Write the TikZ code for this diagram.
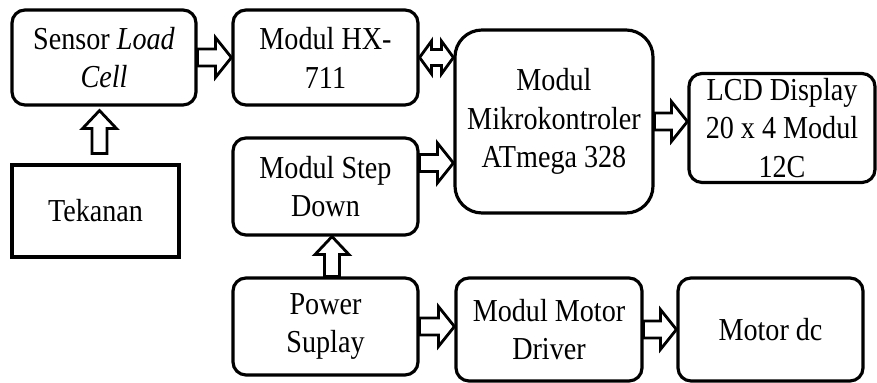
\documentclass[tikz,border=0pt]{standalone}
\usepackage{fontspec}
\setmainfont[FakeStretch=0.88]{Liberation Serif}
\usepackage{tikz}
\usetikzlibrary{calc}

\tikzset{
    block/.style={draw, line width=1.8pt, rounded corners=0.26cm, align=center, inner sep=0pt,
        font=\fontsize{18.2}{22.1}\selectfont},
    blockarr/.style n args={3}{draw, line width=1.6pt, line join=miter, fill=white,
        to path={
            ($(\tikztotarget)!#3!(\tikztostart)$) coordinate (ah)
            ($(\tikztostart)!#1!90:(\tikztotarget)$)
            -- ($(ah)!#1!90:(\tikztotarget)$)
            -- ($(ah)!#2!90:(\tikztotarget)$)
            -- (\tikztotarget)
            -- ($(ah)!#2!-90:(\tikztotarget)$)
            -- ($(ah)!#1!-90:(\tikztotarget)$)
            -- ($(\tikztostart)!#1!-90:(\tikztotarget)$)
            -- cycle}},
    dblarr/.style n args={3}{draw, line width=1.6pt, line join=miter, fill=white,
        to path={
            ($(\tikztostart)!#3!(\tikztotarget)$) coordinate (ha)
            ($(\tikztotarget)!#3!(\tikztostart)$) coordinate (hb)
            (\tikztostart)
            -- ($(ha)!#2!90:(\tikztotarget)$)
            -- ($(ha)!#1!90:(\tikztotarget)$)
            -- ($(hb)!#1!90:(\tikztotarget)$)
            -- ($(hb)!#2!90:(\tikztotarget)$)
            -- (\tikztotarget)
            -- ($(hb)!#2!-90:(\tikztotarget)$)
            -- ($(hb)!#1!-90:(\tikztotarget)$)
            -- ($(ha)!#1!-90:(\tikztotarget)$)
            -- ($(ha)!#2!-90:(\tikztotarget)$)
            -- cycle}}
}

\begin{document}
\begin{tikzpicture}
    \useasboundingbox (0,0) rectangle (17.54,7.66);
    \node[block, minimum width=3.68cm, minimum height=1.90cm] (sensor) at (2.08,6.51) {Sensor \textit{Load}\\\textit{Cell}};
    \node[block, minimum width=3.70cm, minimum height=1.90cm] (hx) at (6.51,6.51) {Modul HX-\\711};
    \node[block, rounded corners=0pt, minimum width=3.34cm, minimum height=1.84cm] (tekanan) at (1.91,3.44) {Tekanan};
    \node[block, minimum width=3.70cm, minimum height=1.94cm] (step) at (6.51,3.93) {Modul Step\\Down};
    \node[block, rounded corners=0.54cm, minimum width=3.96cm, minimum height=3.66cm] (mikro) at (11.08,5.23) {Modul\\Mikrokontroler\\ATmega 328};
    \node[block, minimum width=3.72cm, minimum height=2.18cm] (lcd) at (15.64,5.10) {LCD Display\\20 x 4 Modul\\12C};
    \node[block, minimum width=3.70cm, minimum height=1.94cm] (power) at (6.51,1.13) {Power\\Suplay};
    \node[block, minimum width=3.72cm, minimum height=2.06cm] (driver) at (10.98,1.07) {Modul Motor\\Driver};
    \node[block, minimum width=3.70cm, minimum height=2.06cm] (motor) at (15.41,1.07) {Motor dc};

    \draw[blockarr={0.15cm}{0.34cm}{0.36cm}] ([shift={(0.08,0.2)}]tekanan.north) to ([shift={(-0.09,-0.08)}]sensor.south);
    \draw[blockarr={0.17cm}{0.4cm}{0.32cm}] (sensor.east) to (hx.west);
    \draw[dblarr={0.16cm}{0.33cm}{0.24cm}] (hx.east) to (hx.east -| mikro.west);
    \draw[blockarr={0.17cm}{0.4cm}{0.32cm}] ([yshift=0.47cm]step.east) to ([yshift=0.47cm]step.east -| mikro.west);
    \draw[blockarr={0.17cm}{0.4cm}{0.32cm}] (mikro.east) to (mikro.east -| lcd.west);
    \draw[blockarr={0.15cm}{0.34cm}{0.36cm}] ([xshift=0.13cm]power.north) to ([xshift=0.13cm]step.south);
    \draw[blockarr={0.17cm}{0.4cm}{0.32cm}] (power.east) to (power.east -| driver.west);
    \draw[blockarr={0.17cm}{0.4cm}{0.32cm}] (driver.east) to (driver.east -| motor.west);
\end{tikzpicture}
\end{document}
